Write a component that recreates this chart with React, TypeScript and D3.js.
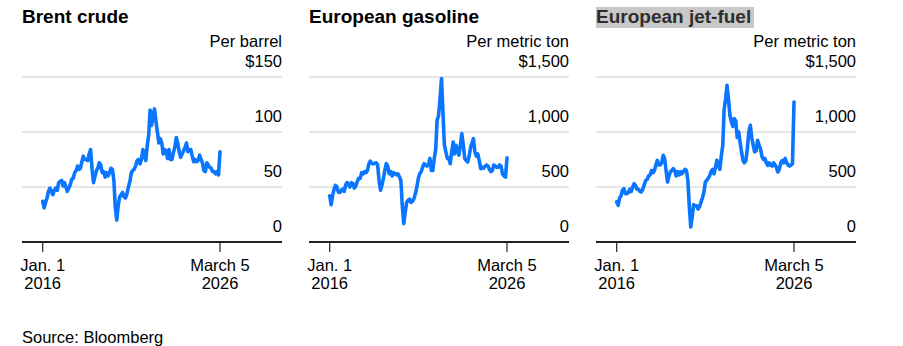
import React from "react";
import * as d3 from "d3";

// ---- Data (monthly readings, first of month, Jan 2016 – Feb 2026, plus Mar 5 2026) ----
const firstMonth = "2016-01-01";
const lastMonth = "2026-02-01";
const lastDate = "2026-03-05";

const brent = [
  37, 31, 36, 40, 46, 49, 46, 43, 47, 49, 47, 54,
  55, 56, 51, 54, 50, 46, 49, 52, 57, 58, 63, 65,
  69, 66, 67, 73, 78, 75, 75, 74, 80, 84, 66, 54,
  60, 65, 67, 72, 70, 63, 64, 59, 63, 60, 63, 67,
  66, 56, 32, 20, 33, 41, 43, 45, 41, 40, 44, 50,
  55, 63, 65, 66, 69, 74, 75, 71, 75, 84, 80, 74,
  88, 98, 120, 106, 114, 121, 110, 100, 90, 94, 90, 80,
  84, 83, 76, 84, 75, 75, 81, 86, 95, 90, 82, 77,
  80, 83, 86, 90, 82, 84, 84, 78, 73, 75, 73, 74,
  79, 75, 72, 65, 64, 72, 70, 68, 67, 64, 64, 62,
  64, 61,
];
const brentLast = 82;

const gasoline = [
  420, 340, 420, 480, 515, 500, 455, 450, 470, 480, 460, 520,
  540, 520, 500, 540, 530, 490, 510, 550, 580, 580, 630, 620,
  640, 630, 650, 710, 735, 715, 710, 715, 720, 700, 560, 470,
  520, 580, 650, 712, 690, 620, 640, 600, 630, 620, 610, 620,
  590, 560, 330, 167, 270, 360, 380, 390, 360, 370, 395, 440,
  500, 580, 621, 640, 680, 712, 700, 690, 700, 760, 650, 650,
  760, 850, 1106, 1150, 1300, 1485, 1180, 880, 820, 760, 760, 712,
  820, 909, 800, 880, 830, 790, 880, 985, 880, 760, 740, 727,
  780, 860, 900, 940, 820, 780, 800, 740, 667, 680, 670, 690,
  700, 690, 660, 640, 650, 700, 690, 680, 680, 700, 690, 620,
  600, 590,
];
const gasolineLast = 765;

const jetFuel = [
  364, 333, 400, 420, 470, 485, 440, 440, 450, 480, 460, 500,
  530, 510, 480, 480, 460, 455, 480, 520, 560, 570, 600, 610,
  650, 630, 650, 700, 742, 700, 700, 720, 788, 760, 650, 545,
  600, 640, 650, 667, 650, 600, 640, 610, 640, 620, 640, 660,
  652, 560, 330, 136, 230, 340, 330, 330, 300, 320, 360, 400,
  450, 545, 560, 580, 600, 640, 660, 620, 680, 742, 690, 660,
  780, 880, 1200, 1300, 1424, 1300, 1150, 1091, 1050, 1121, 1100, 950,
  1000, 900, 820, 742, 720, 740, 850, 1000, 1061, 950, 880, 820,
  830, 924, 880, 850, 780, 750, 760, 720, 697, 720, 700, 690,
  720, 700, 680, 636, 660, 720, 740, 720, 760, 720, 700, 690,
  700, 710,
];
const jetFuelLast = 1273;

const titles = ["Brent crude", "European gasoline", "European jet-fuel"];
const units = ["Per barrel", "Per metric ton", "Per metric ton"];
const yMaxes = [150, 1500, 1500];
const yTickValues = [
  [0, 50, 100, 150],
  [0, 500, 1000, 1500],
  [0, 500, 1000, 1500],
];
const xTickDates = ["2016-01-01", "2026-03-05"];
const xTickLabels = [
  ["Jan. 1", "2016"],
  ["March 5", "2026"],
];
const source = "Source: Bloomberg";

// ---- Layout ----
const W = 903;
const H = 346;
const FONT = "'Liberation Sans', Arial, Helvetica, sans-serif";
const panelLefts = [22, 309, 596];
const panelWidth = 260;
const yTop = 77;
const yBottom = 242;
const tickOffsetStart = 20.7;
const tickOffsetEnd = 198;
const lineColor = "#0a76ff";

const parse = d3.timeParse("%Y-%m-%d");
const monthDates = [...d3.timeMonth.range(parse(firstMonth)!, d3.timeMonth.offset(parse(lastMonth)!, 1)), parse(lastDate)!];

const seriesList = [
  [...brent, brentLast],
  [...gasoline, gasolineLast],
  [...jetFuel, jetFuelLast],
];

function fmtTick(v: number, arr: number[]) {
  const s = d3.format(",")(v);
  if (v === arr[arr.length - 1]) return "$" + s;
  return s;
}

function Panel({ idx }: { idx: number }) {
  const left = panelLefts[idx];
  const right = left + panelWidth;
  const x = d3
    .scaleTime()
    .domain([parse(xTickDates[0])!, parse(xTickDates[1])!])
    .range([left + tickOffsetStart, left + tickOffsetEnd]);
  const y = d3.scaleLinear().domain([0, yMaxes[idx]]).range([yBottom, yTop]);
  const data = seriesList[idx].map((v, i) => ({ d: monthDates[i], v }));
  const line = d3
    .line<{ d: Date; v: number }>()
    .x((p) => x(p.d))
    .y((p) => y(p.v))
    .curve(d3.curveLinear);
  const ticks = yTickValues[idx];
  const highlighted = idx === 2;
  return (
    <g>
      {highlighted && <rect x={left} y={7} width={158} height={21} fill="#c8c8c8" />}
      <text x={left} y={23} fontFamily={FONT} fontWeight="bold" fontSize={19} fill={highlighted ? "#2e2e2e" : "#000"}>
        {titles[idx]}
      </text>
      <text x={right} y={47} fontFamily={FONT} fontSize={16.5} textAnchor="end" fill="#000">
        {units[idx]}
      </text>
      {ticks.map((t) =>
        t === 0 ? null : (
          <line key={"g" + t} x1={left} x2={right} y1={y(t)} y2={y(t)} stroke="#cccccc" strokeWidth={1} />
        )
      )}
      {ticks.map((t) => (
        <text key={"l" + t} x={right} y={y(t) - 10} fontFamily={FONT} fontSize={16.5} textAnchor="end" fill="#000">
          {fmtTick(t, ticks)}
        </text>
      ))}
      <path d={line(data) || ""} fill="none" stroke={lineColor} strokeWidth={3.6} strokeLinejoin="round" strokeLinecap="round" />
      <line x1={left} x2={right} y1={yBottom} y2={yBottom} stroke="#222" strokeWidth={2} />
      {xTickDates.map((ds, i) => {
        const xx = x(parse(ds)!);
        return (
          <g key={ds}>
            <line x1={xx} x2={xx} y1={yBottom} y2={yBottom + 10} stroke="#222" strokeWidth={1.2} />
            <text x={xx} y={271} fontFamily={FONT} fontSize={16.5} textAnchor="middle" fill="#000">
              {xTickLabels[i][0]}
            </text>
            <text x={xx} y={289} fontFamily={FONT} fontSize={16.5} textAnchor="middle" fill="#000">
              {xTickLabels[i][1]}
            </text>
          </g>
        );
      })}
    </g>
  );
}

export default function App() {
  return (
    <svg
      width={W}
      height={H}
      viewBox={`0 0 ${W} ${H}`}
      style={{ position: "absolute", left: 0, top: 0, background: "#fff" }}
    >
      <rect width={W} height={H} fill="#fff" />
      {[0, 1, 2].map((i) => (
        <Panel key={i} idx={i} />
      ))}
      <text x={22} y={343} fontFamily={FONT} fontSize={16.5} fill="#000">
        {source}
      </text>
    </svg>
  );
}
